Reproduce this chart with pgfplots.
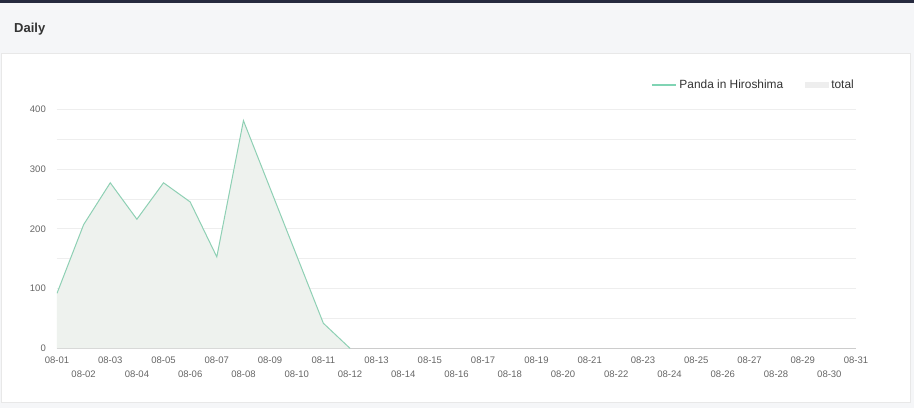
\documentclass[border=0pt]{standalone}
\usepackage{fontspec}
\setmainfont{Liberation Sans}
\usepackage{pgfplots}
\pgfplotsset{compat=1.18}
\definecolor{hdr}{HTML}{F5F6F8}
\definecolor{topbar}{HTML}{262A3F}
\definecolor{cardb}{HTML}{E8E8E8}
\definecolor{c333}{HTML}{333333}
\definecolor{tickc}{HTML}{666666}
\definecolor{gridc}{HTML}{EEEEEE}
\definecolor{axisc}{HTML}{CCCCCC}
\definecolor{linec}{HTML}{8ED0B4}
\definecolor{legl}{HTML}{80D4B4}
\definecolor{fillc}{HTML}{EEF2EE}
\definecolor{legf}{HTML}{EEEEEE}
\begin{document}
\begin{tikzpicture}[x=1pt,y=1pt]
\fill[hdr] (0,0) rectangle (914,408);
\fill[topbar] (0,405) rectangle (914,408);
\filldraw[fill=white, draw=cardb, line width=0.8pt] (1.5,5.5) rectangle (910.5,355);
\node[anchor=west, inner sep=0pt, font=\bfseries\fontsize{13}{13}\selectfont, text=c333] at (14,379) {Daily};
\begin{axis}[
  scale only axis, width=799pt, height=239pt,
  at={(57pt,59.7pt)}, anchor=south west,
  xmin=1, xmax=31, ymin=0, ymax=400,
  axis x line=bottom, axis y line=left,
  axis line style={-},
  x axis line style={draw=axisc, line width=0.8pt},
  y axis line style={draw=none},
  major tick length=0pt, minor tick length=0pt,
  /pgf/number format/assume math mode=true,
  ytick={0,100,200,300,400},
  minor ytick={50,150,250,350},
  ymajorgrids, yminorgrids,
  major grid style={draw=gridc, line width=0.8pt},
  minor grid style={draw=gridc, line width=0.8pt},
  yticklabel style={font=\fontsize{9.5}{10}\selectfont, text=tickc, anchor=east, inner sep=0pt, xshift=-11pt},
  xtick={1,3,...,31},
  xticklabels={08-01,08-03,08-05,08-07,08-09,08-11,08-13,08-15,08-17,08-19,08-21,08-23,08-25,08-27,08-29,08-31},
  extra x ticks={2,4,...,30},
  extra x tick labels={08-02,08-04,08-06,08-08,08-10,08-12,08-14,08-16,08-18,08-20,08-22,08-24,08-26,08-28,08-30},
  xticklabel style={font=\fontsize{9.5}{10}\selectfont, text=tickc, anchor=base, inner sep=0pt, yshift=-15.4pt},
  extra x tick style={xticklabel style={yshift=-14pt}},
  reverse legend,
  legend columns=2,
  legend style={at={(axis description cs:1,1.1017)}, anchor=east, xshift=0.5pt, draw=none, fill=none,
    inner sep=0pt, font=\fontsize{11.9}{12}\selectfont, text=c333,
    nodes={inner sep=2.5pt},
    /tikz/every even column/.append style={column sep=19pt}},
]
\addplot[draw=none, fill=fillc,
  legend image code/.code={\fill[legf] (0pt,-3pt) rectangle (24pt,3pt);}]
  coordinates {(1,92)(2,207)(3,277)(4,216)(5,277)(6,245)(7,153)(8,381)(9,268)(10,155)(11,42)(12,0)} \closedcycle;
\addlegendentry{total}
\addplot[linec, line width=1pt,
  legend image code/.code={\draw[legl, line width=2pt] (0pt,0pt) -- (24pt,0pt);}]
  coordinates {(1,92)(2,207)(3,277)(4,216)(5,277)(6,245)(7,153)(8,381)(9,268)(10,155)(11,42)(12,0)};
\addlegendentry{Panda in Hiroshima}
\end{axis}
\end{tikzpicture}
\end{document}
